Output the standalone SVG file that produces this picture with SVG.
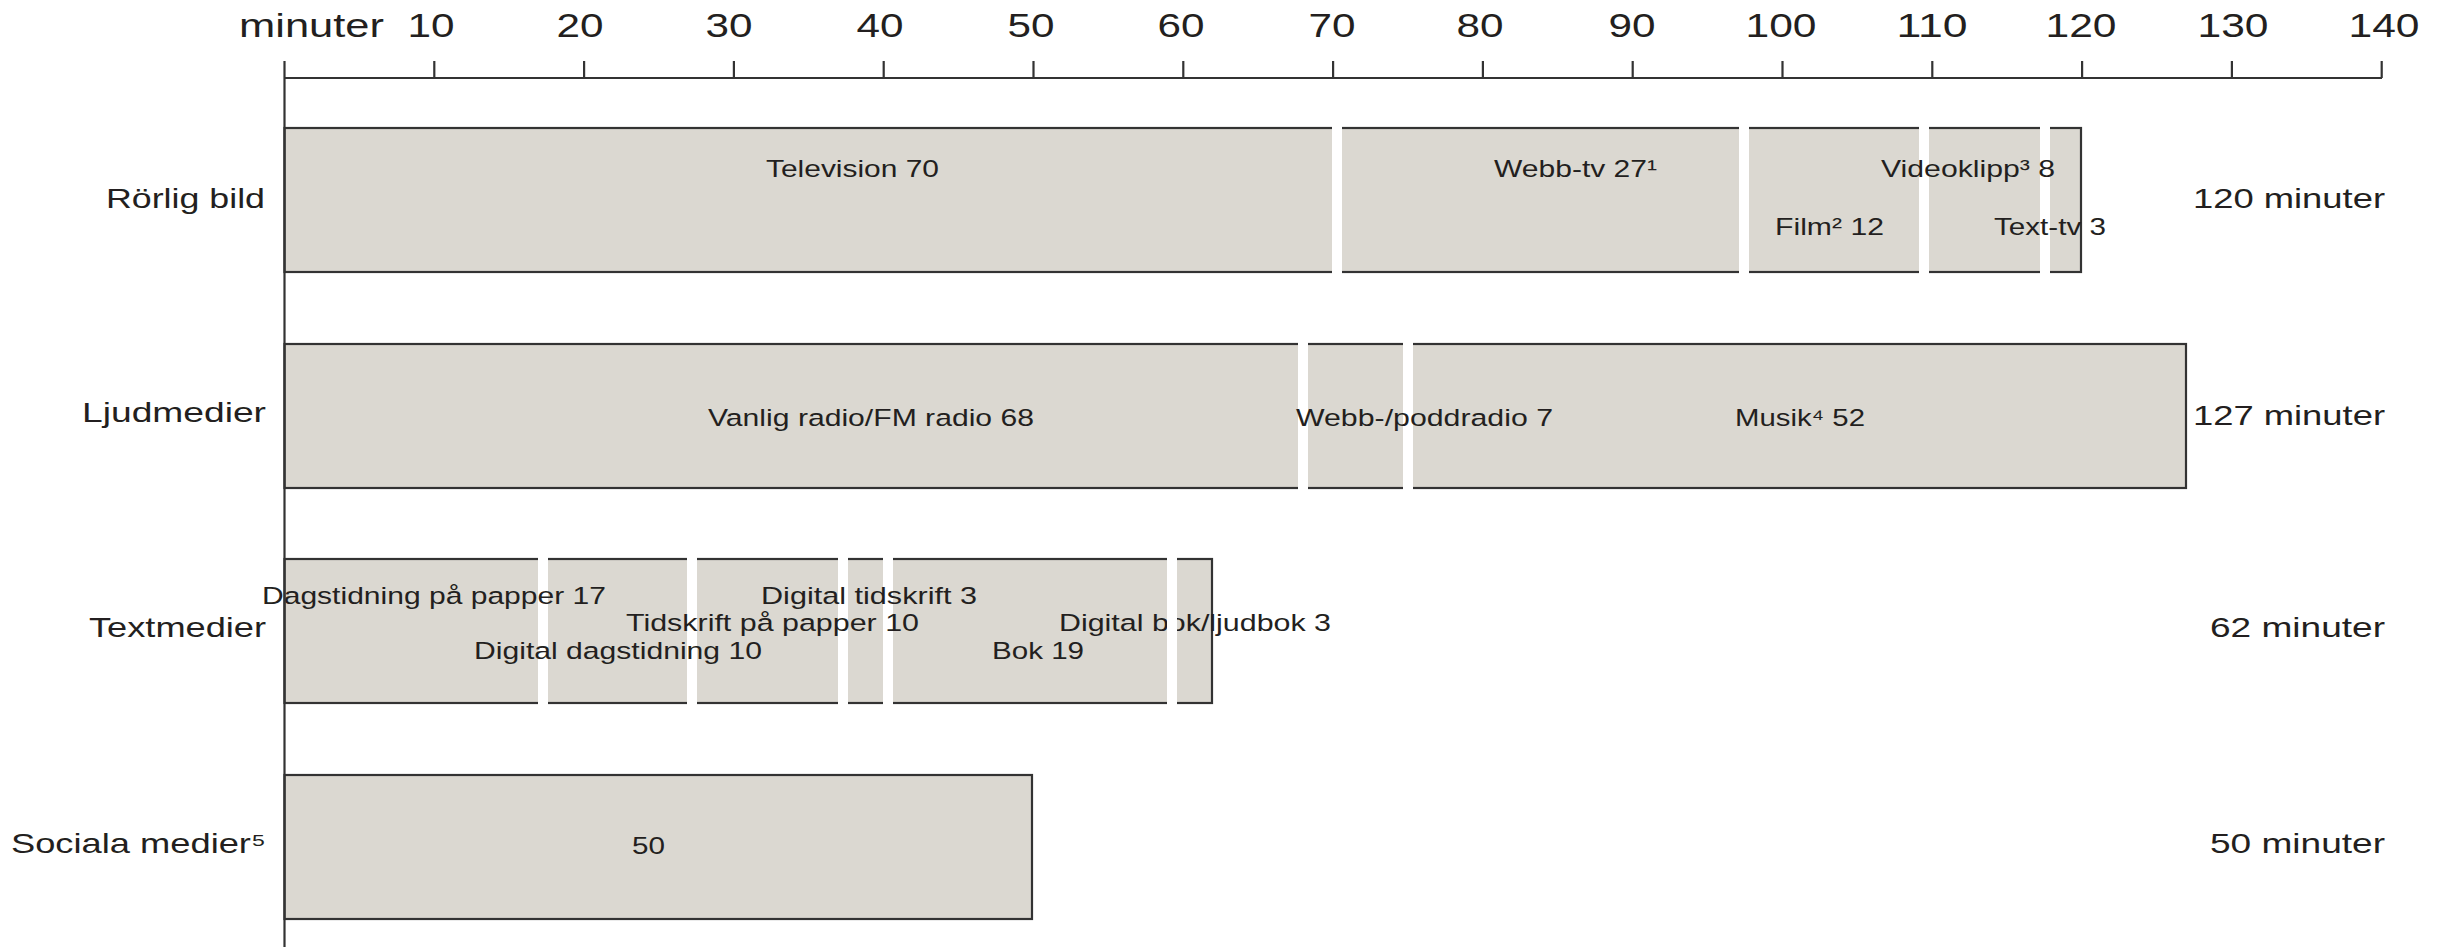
<svg xmlns="http://www.w3.org/2000/svg" width="2450" height="947" viewBox="0 0 2450 947">
<style>
text{font-family:"Liberation Sans",Arial,Helvetica,sans-serif;fill:#231f20}
.tick{font-size:33.5px;text-anchor:middle}
.row{font-size:28px;text-anchor:end}
.tot{font-size:28px;text-anchor:end}
.in{font-size:24.5px}
.bar{fill:#dbd8d1;stroke:#333;stroke-width:2.2}
.gap{fill:#fff;stroke:none}
.ax{stroke:#333;stroke-width:2.2;fill:none}
</style>
<rect width="2450" height="947" fill="#fff"/>

<g id="row1">
<rect class="bar" x="284.5" y="128" width="1796.5" height="144"/>
<rect class="gap" x="1332" y="124" width="10" height="152"/>
<rect class="gap" x="1739" y="124" width="10" height="152"/>
<rect class="gap" x="1919" y="124" width="10" height="152"/>
<rect class="gap" x="2040" y="124" width="10" height="152"/>
<text class="in" x="766" y="177" textLength="173" lengthAdjust="spacingAndGlyphs">Television 70</text>
<text class="in" x="1494" y="177" textLength="163" lengthAdjust="spacingAndGlyphs">Webb-tv 27¹</text>
<text class="in" x="1881" y="177" textLength="174" lengthAdjust="spacingAndGlyphs">Videoklipp³ 8</text>
<text class="in" x="1775" y="235" textLength="109" lengthAdjust="spacingAndGlyphs">Film² 12</text>
<text class="in" x="1994" y="235" textLength="112" lengthAdjust="spacingAndGlyphs">Text-tv 3</text>
<text class="row" x="265" y="208" textLength="159" lengthAdjust="spacingAndGlyphs">Rörlig bild</text>
<text class="tot" x="2385" y="208" textLength="192" lengthAdjust="spacingAndGlyphs">120 minuter</text>
</g>

<g id="row2">
<rect class="bar" x="284.5" y="344" width="1901.5" height="144"/>
<rect class="gap" x="1298" y="340" width="10" height="152"/>
<rect class="gap" x="1403" y="340" width="10" height="152"/>
<text class="in" x="708" y="426" textLength="326" lengthAdjust="spacingAndGlyphs">Vanlig radio/FM radio 68</text>
<text class="in" x="1296" y="426" textLength="257" lengthAdjust="spacingAndGlyphs">Webb-/poddradio 7</text>
<text class="in" x="1735" y="426" textLength="130" lengthAdjust="spacingAndGlyphs">Musik⁴ 52</text>
<text class="row" x="266" y="422" textLength="184" lengthAdjust="spacingAndGlyphs">Ljudmedier</text>
<text class="tot" x="2385" y="425" textLength="192" lengthAdjust="spacingAndGlyphs">127 minuter</text>
</g>

<g id="row3">
<rect class="bar" x="284.5" y="559" width="927.5" height="144"/>
<text class="in" x="1059" y="631" textLength="272" lengthAdjust="spacingAndGlyphs">Digital bok/ljudbok 3</text>
<rect class="gap" x="538" y="555" width="10" height="152"/>
<rect class="gap" x="687" y="555" width="10" height="152"/>
<rect class="gap" x="838" y="555" width="10" height="152"/>
<rect class="gap" x="883" y="555" width="10" height="152"/>
<rect class="gap" x="1167" y="555" width="10" height="152"/>
<text class="in" x="262" y="604" textLength="344" lengthAdjust="spacingAndGlyphs">Dagstidning på papper 17</text>
<text class="in" x="761" y="604" textLength="216" lengthAdjust="spacingAndGlyphs">Digital tidskrift 3</text>
<text class="in" x="626" y="631" textLength="293" lengthAdjust="spacingAndGlyphs">Tidskrift på papper 10</text>
<text class="in" x="474" y="659" textLength="288" lengthAdjust="spacingAndGlyphs">Digital dagstidning 10</text>
<text class="in" x="992" y="659" textLength="92" lengthAdjust="spacingAndGlyphs">Bok 19</text>
<text class="row" x="266" y="637" textLength="177" lengthAdjust="spacingAndGlyphs">Textmedier</text>
<text class="tot" x="2385" y="637" textLength="175" lengthAdjust="spacingAndGlyphs">62 minuter</text>
</g>

<g id="row4">
<rect class="bar" x="284.5" y="775" width="747.5" height="144"/>
<text class="in" x="632" y="854" textLength="33" lengthAdjust="spacingAndGlyphs">50</text>
<text class="row" x="266" y="853" textLength="255" lengthAdjust="spacingAndGlyphs">Sociala medier⁵</text>
<text class="tot" x="2385" y="853" textLength="175" lengthAdjust="spacingAndGlyphs">50 minuter</text>
</g>

<g id="axis">
<line class="ax" x1="284.5" y1="61" x2="284.5" y2="947"/>
<line class="ax" x1="284.5" y1="78" x2="2382" y2="78"/>
<path class="ax" d="M434.3 61V78M584.1 61V78M733.9 61V78M883.7 61V78M1033.5 61V78M1183.3 61V78M1333.1 61V78M1482.9 61V78M1632.7 61V78M1782.5 61V78M1932.3 61V78M2082.1 61V78M2231.9 61V78M2381.7 61V78"/>
<text x="239" y="37" style="font-size:33.5px" textLength="145" lengthAdjust="spacingAndGlyphs">minuter</text>
<text class="tick" x="431" y="37" textLength="47" lengthAdjust="spacingAndGlyphs">10</text>
<text class="tick" x="580" y="37" textLength="47" lengthAdjust="spacingAndGlyphs">20</text>
<text class="tick" x="729" y="37" textLength="47" lengthAdjust="spacingAndGlyphs">30</text>
<text class="tick" x="880" y="37" textLength="47" lengthAdjust="spacingAndGlyphs">40</text>
<text class="tick" x="1031" y="37" textLength="47" lengthAdjust="spacingAndGlyphs">50</text>
<text class="tick" x="1181" y="37" textLength="47" lengthAdjust="spacingAndGlyphs">60</text>
<text class="tick" x="1332" y="37" textLength="47" lengthAdjust="spacingAndGlyphs">70</text>
<text class="tick" x="1480" y="37" textLength="47" lengthAdjust="spacingAndGlyphs">80</text>
<text class="tick" x="1632" y="37" textLength="47" lengthAdjust="spacingAndGlyphs">90</text>
<text class="tick" x="1781" y="37" textLength="71" lengthAdjust="spacingAndGlyphs">100</text>
<text class="tick" x="1932" y="37" textLength="71" lengthAdjust="spacingAndGlyphs">110</text>
<text class="tick" x="2081" y="37" textLength="71" lengthAdjust="spacingAndGlyphs">120</text>
<text class="tick" x="2233" y="37" textLength="71" lengthAdjust="spacingAndGlyphs">130</text>
<text class="tick" x="2384" y="37" textLength="71" lengthAdjust="spacingAndGlyphs">140</text>
</g>
</svg>
